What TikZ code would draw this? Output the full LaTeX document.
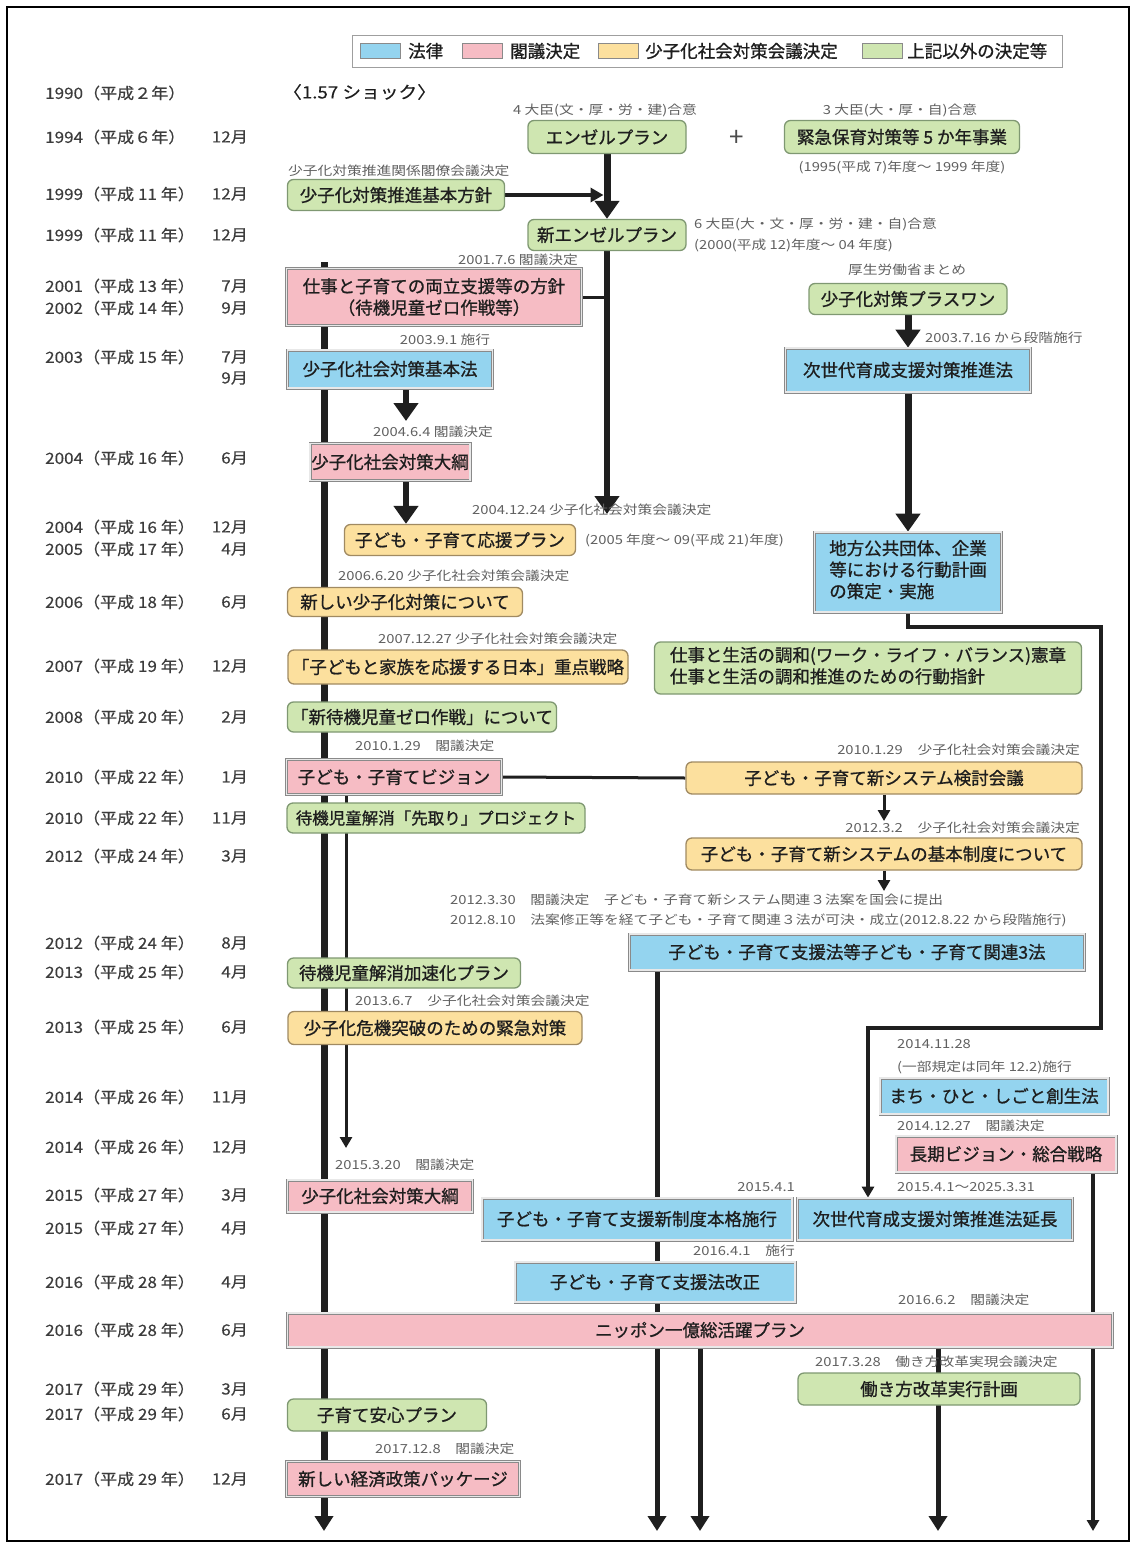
\documentclass[tikz,border=0pt]{standalone}
\usepackage{fontspec}
\setmainfont{Noto Sans CJK JP}
\newfontfamily\boxfont[FakeBold=0.9]{Noto Sans CJK JP}
\newfontfamily\labfont[FakeStretch=1.18]{Noto Sans CJK JP}
\newfontfamily\datefont[FakeStretch=1.1,FakeBold=0.3]{Noto Sans CJK JP}
\usetikzlibrary{arrows.meta,backgrounds,calc}
\definecolor{lawblue}{HTML}{94D4EF}
\definecolor{cabpink}{HTML}{F6BCC4}
\definecolor{confyel}{HTML}{FCE09E}
\definecolor{othgreen}{HTML}{CFE6B1}
\definecolor{confbord}{HTML}{A08A62}
\definecolor{othbord}{HTML}{7F9872}
\definecolor{sqbord}{HTML}{8A8A8A}
\definecolor{labgray}{HTML}{606060}
\definecolor{dategray}{HTML}{3C3C3C}
\definecolor{inkc}{HTML}{1E1E1E}
\newcommand\mainsz{\boxfont\fontsize{17.5}{21.5}\selectfont}
\newcommand\labsz{\labfont\fontsize{12.5}{15}\selectfont}
\newcommand\datesz{\datefont\fontsize{15.5}{18}\selectfont}
\begin{document}
\begin{tikzpicture}[x=1pt,y=-1pt,
 box/.style={inner sep=0pt, align=center, font=\mainsz, text=inkc},
 sq/.style={box, rectangle, draw=sqbord, line width=0.7pt, double=gray!18, double distance=1.6pt},
 law/.style={sq, fill=lawblue},
 cab/.style={sq, fill=cabpink},
 conf/.style={box, rounded corners=6pt, fill=confyel, draw=confbord, line width=1.3pt},
 oth/.style={box, rounded corners=6pt, fill=othgreen, draw=othbord, line width=1.3pt},
 lab/.style={inner sep=0pt, font=\labsz, text=labgray},
 yr/.style={inner sep=0pt, font=\datesz, text=dategray, anchor=west},
 mo/.style={inner sep=0pt, font=\datesz, text=dategray, anchor=east},
 legsw/.style={rectangle, inner sep=0pt, minimum width=40, minimum height=15, draw=sqbord, line width=0.8pt},
 ln/.style={draw=black!88, line cap=butt},
 bigtip/.style={-{Triangle[length=18pt,width=24pt]}},
 midtip/.style={-{Triangle[length=15pt,width=18pt]}},
 smtip/.style={-{Triangle[length=11pt,width=12pt]}}
]
\useasboundingbox (0,0) rectangle (1137,1546);
\draw[line width=1.5pt] (7,7) rectangle (1129,1541);

% legend
\node[draw=gray!75, line width=0.9pt, fill=white, minimum width=710, minimum height=32, inner sep=0pt] (legend) at (707,51) {};
\node[legsw, fill=lawblue] (sw1) at (380,51) {};
\node[box, anchor=west] (lt1) at (408,51) {法律};
\node[legsw, fill=cabpink] (sw2) at (482,51) {};
\node[box, anchor=west] (lt2) at (510,51) {閣議決定};
\node[legsw, fill=confyel] (sw3) at (618,51) {};
\node[box, anchor=west] (lt3) at (645,51) {少子化社会対策会議決定};
\node[legsw, fill=othgreen] (sw4) at (882,51) {};
\node[box, anchor=west] (lt4) at (907,51) {上記以外の決定等};

% dates
\foreach \yy/\yt/\mt [count=\i] in {
 93/{1990（平成２年）}/{},
 137/{1994（平成６年）}/{12月},
 194/{1999（平成 11 年）}/{12月},
 235/{1999（平成 11 年）}/{12月},
 286/{2001（平成 13 年）}/{7月},
 308/{2002（平成 14 年）}/{9月},
 357/{2003（平成 15 年）}/{7月},
 378/{}/{9月},
 458/{2004（平成 16 年）}/{6月},
 527/{2004（平成 16 年）}/{12月},
 549/{2005（平成 17 年）}/{4月},
 602/{2006（平成 18 年）}/{6月},
 666/{2007（平成 19 年）}/{12月},
 717/{2008（平成 20 年）}/{2月},
 777/{2010（平成 22 年）}/{1月},
 818/{2010（平成 22 年）}/{11月},
 856/{2012（平成 24 年）}/{3月},
 943/{2012（平成 24 年）}/{8月},
 972/{2013（平成 25 年）}/{4月},
 1027/{2013（平成 25 年）}/{6月},
 1097/{2014（平成 26 年）}/{11月},
 1147/{2014（平成 26 年）}/{12月},
 1195/{2015（平成 27 年）}/{3月},
 1228/{2015（平成 27 年）}/{4月},
 1282/{2016（平成 28 年）}/{4月},
 1330/{2016（平成 28 年）}/{6月},
 1389/{2017（平成 29 年）}/{3月},
 1414/{2017（平成 29 年）}/{6月},
 1479/{2017（平成 29 年）}/{12月}}
{
 \node[yr] (yr\i) at (45,\yy) {\yt};
 \node[mo] (mo\i) at (248,\yy) {\mt};
}

% top
\node[box, anchor=west, font=\datefont\fontsize{17}{20}\selectfont] (shock) at (283,92) {〈1.57 ショック〉};
\node[lab] (lAngel) at (605,110) {4 大臣(文・厚・労・建)合意};
\node[oth, minimum width=158, minimum height=33] (angel) at (607,137) {エンゼルプラン};
\node[inner sep=0pt, text=black!70, font=\fontsize{26}{26}\selectfont] (plus) at (737,138) {+};
\node[lab] (lKinkyu) at (900,110) {3 大臣(大・厚・自)合意};
\node[oth, minimum width=235, minimum height=33] (kinkyu) at (902,137) {緊急保育対策等 5 か年事業};
\node[lab] (lKinkyu2) at (902,167) {(1995(平成 7)年度～ 1999 年度)};

\node[lab, anchor=west] (lKhs) at (288,171) {少子化対策推進関係閣僚会議決定};
\node[oth, minimum width=217, minimum height=31] (khs) at (396,195) {少子化対策推進基本方針};
\node[oth, minimum width=158, minimum height=31] (newangel) at (607,235) {新エンゼルプラン};
\node[lab, anchor=west] (lNa1) at (694,224) {6 大臣(大・文・厚・労・建・自)合意};
\node[lab, anchor=west] (lNa2) at (694,245) {(2000(平成 12)年度～ 04 年度)};

\node[lab, anchor=east] (lRyou) at (578,260) {2001.7.6 閣議決定};
\node[cab, minimum width=295, minimum height=57] (ryou) at (434,297) {仕事と子育ての両立支援等の方針\\（待機児童ゼロ作戦等）};
\node[lab] (lPlus) at (907,270) {厚生労働省まとめ};
\node[oth, minimum width=198, minimum height=31] (plusone) at (908,299) {少子化対策プラスワン};
\node[lab, anchor=west] (lJise) at (925,338) {2003.7.16 から段階施行};
\node[law, minimum width=245, minimum height=44] (jisedai) at (908,370) {次世代育成支援対策推進法};

\node[lab] (lKhh) at (445,340) {2003.9.1 施行};
\node[law, minimum width=205, minimum height=38] (khh) at (390,369) {少子化社会対策基本法};
\node[lab] (lTaiko) at (433,432) {2004.6.4 閣議決定};
\node[cab, minimum width=160, minimum height=37] (taiko) at (390,462) {少子化社会対策大綱};
\node[lab, anchor=west] (lOuen) at (472,510) {2004.12.24 少子化社会対策会議決定};
\node[conf, minimum width=231, minimum height=31] (ouen) at (460,540) {子ども・子育て応援プラン};
\node[lab, anchor=west] (lOuen2) at (585,540) {(2005 年度～ 09(平成 21)年度)};
\node[law, minimum width=187, minimum height=80] (chihou) at (908,572) {\begin{tabular}{@{}l@{}}地方公共団体、企業\\等における行動計画\\の策定・実施\end{tabular}};

\node[lab, anchor=west] (lAtar) at (338,576) {2006.6.20 少子化社会対策会議決定};
\node[conf, minimum width=235, minimum height=29] (atar) at (405,602) {新しい少子化対策について};
\node[lab, anchor=west] (lJuten) at (378,639) {2007.12.27 少子化社会対策会議決定};
\node[conf, minimum width=340, minimum height=34] (juten) at (458,667) {「子どもと家族を応援する日本」重点戦略};
\node[oth, minimum width=427, minimum height=52] (wlb) at (868,668) {\begin{tabular}{@{}l@{}}仕事と生活の調和(ワーク・ライフ・バランス)憲章\\仕事と生活の調和推進のための行動指針\end{tabular}};
\node[oth, minimum width=269, minimum height=30] (zero) at (422,717) {「新待機児童ゼロ作戦」について};

\node[lab, anchor=west] (lVision) at (355,746) {2010.1.29　閣議決定};
\node[cab, minimum width=215, minimum height=35] (vision) at (394,777) {子ども・子育てビジョン};
\node[lab, anchor=east] (lKentou) at (1080,750) {2010.1.29　少子化社会対策会議決定};
\node[conf, minimum width=396, minimum height=32] (kentou) at (884,778) {子ども・子育て新システム検討会議};
\node[oth, minimum width=298, minimum height=30, font=\boxfont\fontsize{16.5}{20}\selectfont] (sakidori) at (436,818) {待機児童解消「先取り」プロジェクト};
\node[lab, anchor=east] (lSeido) at (1080,828) {2012.3.2　少子化社会対策会議決定};
\node[conf, minimum width=396, minimum height=32] (seido) at (884,854) {子ども・子育て新システムの基本制度について};
\node[lab, anchor=west] (l3a) at (450,900) {2012.3.30　閣議決定　子ども・子育て新システム関連３法案を国会に提出};
\node[lab, anchor=west] (l3b) at (450,920) {2012.8.10　法案修正等を経て子ども・子育て関連３法が可決・成立(2012.8.22 から段階施行)};
\node[law, minimum width=455, minimum height=36] (kanren) at (857,952) {子ども・子育て支援法等子ども・子育て関連3法};

\node[oth, minimum width=233, minimum height=30] (kasoku) at (404,973) {待機児童解消加速化プラン};
\node[lab, anchor=west] (lKiki) at (355,1001) {2013.6.7　少子化社会対策会議決定};
\node[conf, minimum width=294, minimum height=33] (kiki) at (435,1028) {少子化危機突破のための緊急対策};

\node[lab, anchor=west] (lMachi1) at (897,1044) {2014.11.28};
\node[lab, anchor=west] (lMachi2) at (897,1067) {(一部規定は同年 12.2)施行};
\node[law, minimum width=228, minimum height=36] (machi) at (994,1096) {まち・ひと・しごと創生法};
\node[lab, anchor=west] (lChouki) at (897,1126) {2014.12.27　閣議決定};
\node[cab, minimum width=220, minimum height=36] (chouki) at (1006,1154) {長期ビジョン・総合戦略};

\node[lab, anchor=west] (lTaiko2) at (335,1165) {2015.3.20　閣議決定};
\node[cab, minimum width=185, minimum height=32] (taiko2) at (380,1196) {少子化社会対策大綱};
\node[lab, anchor=east] (lHonkaku) at (795,1187) {2015.4.1};
\node[law, minimum width=310, minimum height=42] (honkaku) at (637,1219) {子ども・子育て支援新制度本格施行};
\node[lab, anchor=west] (lJise2) at (897,1187) {2015.4.1～2025.3.31};
\node[law, minimum width=275, minimum height=42] (jisedai2) at (935,1219) {次世代育成支援対策推進法延長};
\node[lab, anchor=east] (lKaisei) at (795,1251) {2016.4.1　施行};
\node[law, minimum width=280, minimum height=40] (kaisei) at (655,1282) {子ども・子育て支援法改正};
\node[lab, anchor=west] (lNippon) at (898,1300) {2016.6.2　閣議決定};
\node[cab, minimum width=825, minimum height=34] (nippon) at (700,1330) {ニッポン一億総活躍プラン};
\node[lab, anchor=west] (lHatar) at (815,1362) {2017.3.28　働き方改革実現会議決定};
\node[oth, minimum width=282, minimum height=32] (hatar) at (939,1389) {働き方改革実行計画};
\node[oth, minimum width=199, minimum height=32] (anshin) at (387,1415) {子育て安心プラン};
\node[lab, anchor=west] (lKeizai) at (375,1449) {2017.12.8　閣議決定};
\node[cab, minimum width=233, minimum height=35] (keizai) at (403,1479) {新しい経済政策パッケージ};

% free connector ends
\coordinate (tTop) at (324,262);
\coordinate (tBot) at (324,1531);
\coordinate (naEnd) at (607,514);
\coordinate (khhEnd) at (406,421);
\coordinate (lp1) at (1101,627);
\coordinate (lp2) at (1101,1028);
\coordinate (lp3) at (868,1028);
\coordinate (kentEnd) at (884,821);
\coordinate (seidoEnd) at (884,891);
\coordinate (thinEnd) at (346,1148);
\coordinate (b657) at (657,1531);
\coordinate (b700) at (700,1531);
\coordinate (b938) at (938,1531);
\coordinate (b1093) at (1093,1531);

\begin{pgfonlayer}{background}
\draw[ln, line width=7pt, midtip] (tTop) -- (tBot);
\draw[ln, line width=7pt, bigtip] (angel.south) -- (newangel.north);
\draw[ln, line width=3.5pt, -{Triangle[length=13pt,width=14pt]}, shorten >=3.5pt] (khs.east) -- (khs.east -| angel.south);
\draw[ln, line width=6pt, bigtip] (newangel.south) -- (naEnd);
\draw[ln, line width=3pt] (ryou.east) -- (ryou.east -| newangel.south);
\draw[ln, line width=6pt, bigtip] ([xshift=16pt]khh.south) -- (khhEnd);
\draw[ln, line width=6pt, bigtip] ([xshift=16pt]taiko.south) -- ([xshift=16pt]taiko.south |- ouen.north);
\draw[ln, line width=7pt, bigtip] (plusone.south) -- (jisedai.north);
\draw[ln, line width=7pt, bigtip] (jisedai.south) -- (chihou.north);
\draw[ln, line width=4pt, smtip] (chihou.south) |- (lp1) -- (lp2) -- (lp3) -- (lp3 |- jisedai2.north);
\draw[ln, line width=3pt] (vision.east) -- (kentou.west);
\draw[ln, line width=3pt, smtip] (kentou.south) -- (kentEnd);
\draw[ln, line width=3pt, smtip] (seido.south) -- (seidoEnd);
\draw[ln, line width=3pt, smtip] ([xshift=-48pt]vision.south) -- (thinEnd);
\draw[ln, line width=5pt, midtip] ([xshift=-200pt]kanren.south) -- (b657);
\draw[ln, line width=5pt, midtip] (nippon.south) -- (b700);
\draw[ln, line width=5pt, midtip] ([xshift=238pt]nippon.south) -- (b938);
\draw[ln, line width=3.5pt, smtip] ([xshift=87pt]chouki.south) -- (b1093);
\end{pgfonlayer}
\end{tikzpicture}
\end{document}
